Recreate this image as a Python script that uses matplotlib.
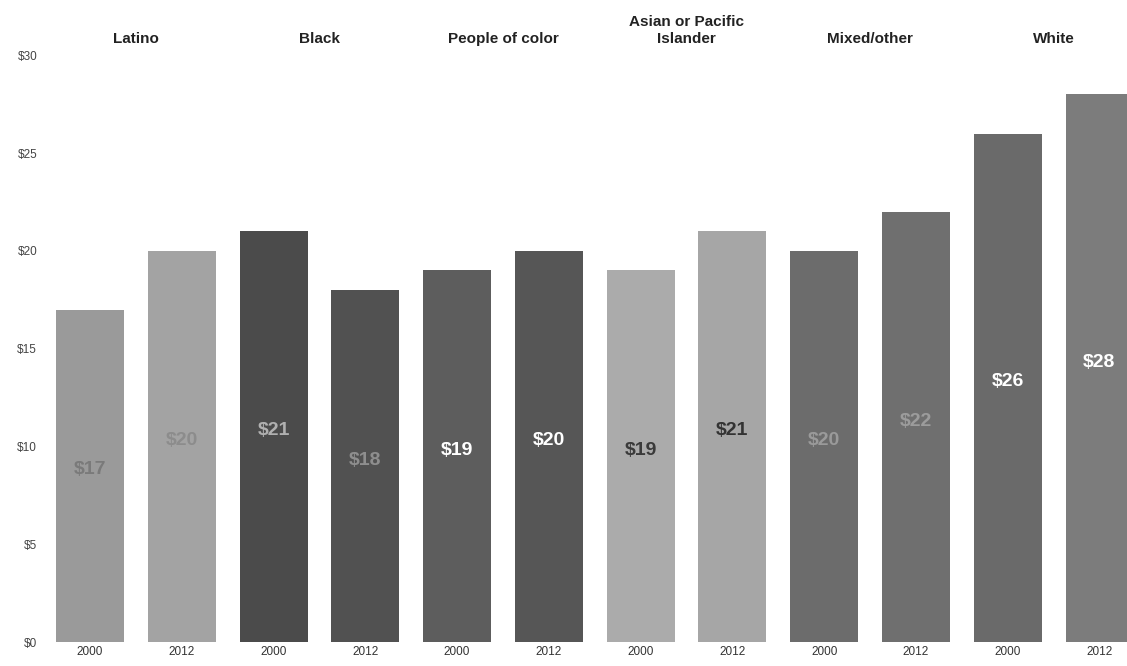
import numpy as np
import matplotlib.pyplot as plt

plt.rcParams['font.family'] = ['Liberation Sans', 'DejaVu Sans']

# data
groups = ['Latino', 'Black', 'People of color', 'Asian or Pacific\nIslander', 'Mixed/other', 'White']
years = ['2000', '2012']
wages = [17, 20, 21, 18, 19, 20, 19, 21, 20, 22, 26, 28]

bar_colors = ['#9a9a9a', '#a3a3a3', '#4b4b4b', '#515151', '#5d5d5d', '#565656',
              '#ababab', '#a6a6a6', '#6c6c6c', '#6f6f6f', '#6a6a6a', '#7c7c7c']
label_colors = ['#7a7a7a', '#8c8c8c', '#b0b0b0', '#8e8e8e', '#ffffff', '#ffffff',
                '#3a3a3a', '#333333', '#9a9a9a', '#9c9c9c', '#ffffff', '#ffffff']

fig = plt.figure(figsize=(11.27, 6.66), dpi=100)
ax = fig.add_axes([0.0355, 0.036, 0.9645, 0.881])

x = np.arange(len(wages))
ax.bar(x, wages, width=0.74, color=bar_colors, linewidth=0)

for xi, v, c in zip(x, wages, label_colors):
    ax.text(xi, v / 2 + 0.3, f'${v}', ha='center', va='center',
            fontsize=14, fontweight='bold', color=c)

# group titles above each pair
for i, g in enumerate(groups):
    ax.text(2 * i + 0.5, 1.015, g, transform=ax.get_xaxis_transform(),
            ha='center', va='bottom', fontsize=11, fontweight='bold',
            color='#222222', linespacing=1.35)

ax.set_xlim(-0.545, 11.3)
ax.set_ylim(0, 30)
ax.set_yticks(range(0, 31, 5))
ax.set_yticklabels([f'${t}' for t in range(0, 31, 5)], fontsize=8.5, color='#444444')
ax.set_xticks(x)
ax.set_xticklabels(years * len(groups), fontsize=8.5, color='#333333')
ax.tick_params(length=0)
ax.tick_params(axis='x', pad=3)
ax.tick_params(axis='y', pad=2)
for s in ax.spines.values():
    s.set_visible(False)

fig.savefig('out.png', dpi=100)
